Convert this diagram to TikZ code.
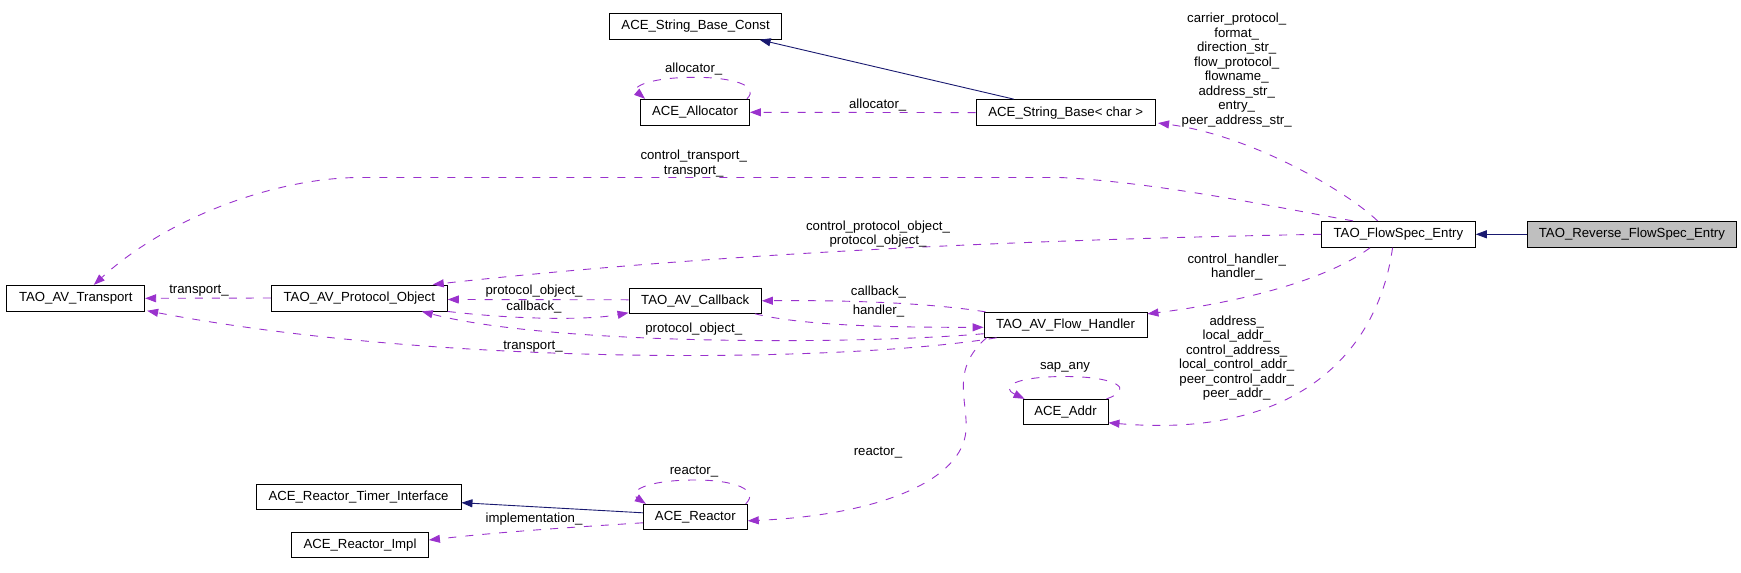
\documentclass[tikz,border=0pt]{standalone}
\usepackage{fontspec}
\setmainfont{Liberation Sans}
\usetikzlibrary{arrows.meta,calc}
\definecolor{edgepurple}{HTML}{9A32CD}
\definecolor{inhblue}{HTML}{191970}
\definecolor{boxgray}{HTML}{BFBFBF}
\tikzset{
  cls/.style={draw=black, line width=0.9pt, minimum height=26pt, inner sep=0pt,
    font=\fontsize{13.2}{14.5}\selectfont, anchor=center},
  lbl/.style={inner sep=0pt, align=center, font=\fontsize{13.2}{14.5}\selectfont},
  usage/.style={draw=edgepurple, line width=0.9pt, dash pattern=on 8pt off 9pt,
    -{Triangle[length=11pt,width=8pt]}},
  inherit/.style={draw=inhblue, line width=0.9pt, -{Triangle[length=11pt,width=8pt]}},
}
\begin{document}
\begin{tikzpicture}[x=1pt,y=-1pt]
\useasboundingbox (0,0) rectangle (1741,573);

% classes
\node[cls, minimum width=172pt] (const) at (695.6,26.3) {ACE\_String\_Base\_Const};
\node[cls, minimum width=109pt] (alloc) at (695,112.3) {ACE\_Allocator};
\node[cls, minimum width=179.6pt] (strbase) at (1065.8,112.6) {ACE\_String\_Base< char >};
\node[cls, minimum width=153.8pt] (flowspec) at (1398.4,234.3) {TAO\_FlowSpec\_Entry};
\node[cls, minimum width=209.2pt, fill=boxgray] (reverse) at (1631.9,234.3) {TAO\_Reverse\_FlowSpec\_Entry};
\node[cls, minimum width=137.8pt] (transport) at (75.8,298.3) {TAO\_AV\_Transport};
\node[cls, minimum width=176pt] (protoobj) at (359.3,298) {TAO\_AV\_Protocol\_Object};
\node[cls, minimum width=132.4pt, minimum height=25pt] (callback) at (695.2,300.8) {TAO\_AV\_Callback};
\node[cls, minimum width=163pt, minimum height=25pt] (flowhandler) at (1065.5,324.8) {TAO\_AV\_Flow\_Handler};
\node[cls, minimum width=85pt, minimum height=25pt] (addr) at (1065.5,411.8) {ACE\_Addr};
\node[cls, minimum width=205pt, minimum height=25pt] (timerif) at (358.5,496.7) {ACE\_Reactor\_Timer\_Interface};
\node[cls, minimum width=137pt, minimum height=25pt] (reactorimpl) at (360,544.8) {ACE\_Reactor\_Impl};
\node[cls, minimum width=104pt, minimum height=25pt] (reactor) at (695.3,516.8) {ACE\_Reactor};

% inheritance
\draw[inherit] ($(strbase.north)+(-52,0)$) -- ($(const.south)+(64,0)$);
\draw[inherit] (reverse.west) -- (flowspec.east);
\draw[inherit] ($(reactor.west)+(0,-4)$) -- ($(timerif.east)+(0,6)$);

% usage edges
\draw[usage] (strbase.west) -- (alloc.east);
\node[lbl] (lalloc) at (877.7,105) {allocator\_};

\draw[usage] ($(alloc.north east)+(-3,0)$) .. controls +(14,-14) and +(35,0) .. (695,77.3)
  .. controls +(-45,0) and +(-14,-12) .. ($(alloc.north west)+(5,0)$);
\node[lbl] (lallocself) at (693.7,69) {allocator\_};

\draw[usage] ($(flowspec.north west)+(56.5,0)$) .. controls (1345,190) and (1250,135) .. ($(strbase.south east)+(2,-3)$);
\node[lbl] (lstr) at (1236.7,70) {carrier\_protocol\_\\format\_\\direction\_str\_\\flow\_protocol\_\\flowname\_\\address\_str\_\\entry\_\\peer\_address\_str\_};

\draw[usage] ($(flowspec.north west)+(32,0)$) .. controls (1300,212) and (1160,182) .. (1060,177.5)
  -- (360,177.5) .. controls (280,177.5) and (170,215) .. ($(transport.north)+(18,0)$);
\node[lbl] (lctrans) at (693.7,163.5) {control\_transport\_\\transport\_};

\draw[usage] (flowspec.west) .. controls (1000,240) and (700,255) .. ($(protoobj.north east)+(-15,0)$);
\node[lbl] (lcproto) at (878,233.9) {control\_protocol\_object\_\\protocol\_object\_};

\draw[usage] (protoobj.west) -- (transport.east);
\node[lbl] (ltrans1) at (199,290.7) {transport\_};

\draw[usage] ($(callback.west)+(0,-1)$) -- ($(protoobj.east)+(0,1.5)$);
\node[lbl] (lpo1) at (534,290.7) {protocol\_object\_};

\draw[usage] (protoobj.south east) .. controls (520,320) and (590,320) .. ($(callback.south west)+(0,-1)$);
\node[lbl] (lcb1) at (534,306.7) {callback\_};

\draw[usage] ($(flowhandler.north west)+(2,0)$) .. controls (930,303) and (850,300) .. (callback.east);
\node[lbl] (lcb2) at (878.5,292) {callback\_};

\draw[usage] ($(callback.south east)+(-7,0)$) .. controls (800,325) and (880,327.5) .. ($(flowhandler.west)+(0,2.5)$);
\node[lbl] (lh1) at (878.5,311) {handler\_};

\draw[usage] ($(flowhandler.south west)+(0,-4)$) .. controls (850,345) and (550,345) .. ($(protoobj.south east)+(-26,0)$);
\node[lbl] (lpo2) at (693.7,329) {protocol\_object\_};

\draw[usage] ($(flowhandler.south west)+(13,0)$) .. controls (850,362) and (450,368) .. ($(transport.south east)+(2,-1)$);
\node[lbl] (ltrans2) at (533,347) {transport\_};

\draw[usage] ($(flowspec.south west)+(49,0)$) .. controls (1320,285) and (1220,305) .. ($(flowhandler.north east)+(0,2)$);
\node[lbl] (lch) at (1236.7,267) {control\_handler\_\\handler\_};

\draw[usage] ($(flowspec.south west)+(71.5,0)$) .. controls (1380,340) and (1310,440) .. ($(addr.south east)+(0,-2)$);
\node[lbl] (laddr) at (1236.7,358) {address\_\\local\_addr\_\\control\_address\_\\local\_control\_addr\_\\peer\_control\_addr\_\\peer\_addr\_};

\draw[usage] ($(addr.north east)+(-2,0)$) .. controls +(30,-10) and +(50,0) .. (1065,376.5)
  .. controls +(-50,0) and +(-25,-12) .. ($(addr.north west)+(2,0)$);
\node[lbl] (lsap) at (1065,367) {sap\_any};

\draw[usage] ($(reactor.north east)+(-2,0)$) .. controls +(14,-14) and +(40,0) .. (695,480)
  .. controls +(-50,0) and +(-18,-12) .. ($(reactor.north west)+(3,0)$);
\node[lbl] (lreactself) at (694,471.7) {reactor\_};

\draw[usage] ($(flowhandler.south west)+(3,0)$) .. controls (950,370) and (968,400) .. (966,430)
  .. controls (963,480) and (880,515) .. ($(reactor.east)+(0,4)$);
\node[lbl] (lreact) at (878,452.7) {reactor\_};

\draw[usage] ($(reactor.west)+(0,6)$) .. controls (560,528) and (500,532) .. ($(reactorimpl.east)+(0,-4.8)$);
\node[lbl] (limpl) at (534,519.3) {implementation\_};

\end{tikzpicture}
\end{document}
